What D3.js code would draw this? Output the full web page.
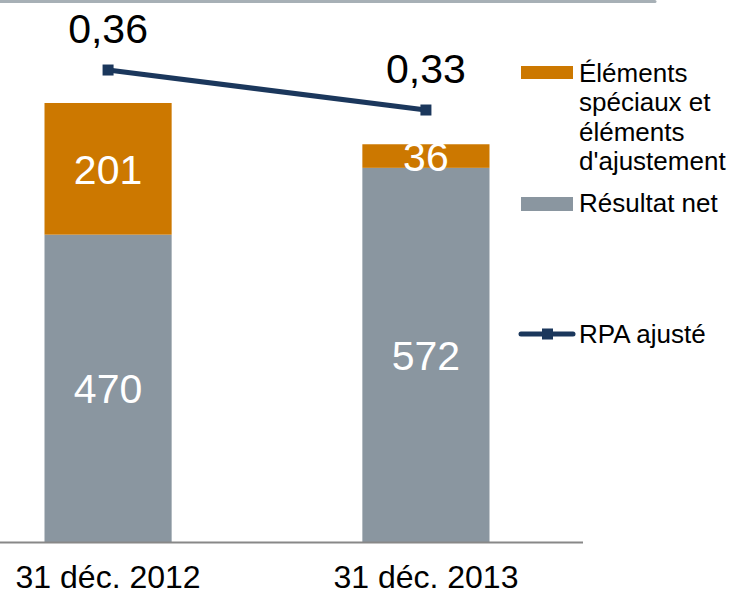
<!DOCTYPE html>
<html>
  <head>
    <meta charset="utf-8">
    <script src="https://d3js.org/d3.v7.min.js"></script>
    <style>
      body { margin: 0; background: #fff; }
      svg { font-family: Arial, "Liberation Sans", sans-serif; display: block; }
    </style>
  </head>
  <body>
    <svg width="733" height="594"></svg>
    <script>
      const categories = ["31 déc. 2012", "31 déc. 2013"];
      const netIncome = [470, 572];
      const specialItems = [201, 36];
      const adjustedEps = [0.36, 0.33];
      const epsLabels = ["0,36", "0,33"];

      const orange = "#cc7800", grey = "#8a96a0", navy = "#1b375c";

      const svg = d3.select("svg");
      const base = 542.5;

      const x = d3.scaleBand()
        .domain(categories)
        .range([0, 534])
        .paddingInner(0.6)
        .paddingOuter(0.14);

      const y = d3.scaleLinear().domain([0, 800]).range([base, base - 524]);
      const y2 = d3.scaleLinear().domain([0.30, 0.40]).range([150, 16.7]);

      // thin rule at the top of the slide
      svg.append("line")
        .attr("x1", 0).attr("x2", 655)
        .attr("y1", 1.5).attr("y2", 1.5)
        .attr("stroke", "#a7b0b6")
        .attr("stroke-width", 3)
        .attr("stroke-linecap", "round");

      const stacked = categories.map((c, i) => ({ cat: c, net: netIncome[i], special: specialItems[i] }));

      const bars = svg.append("g").selectAll("g").data(stacked).join("g");

      bars.append("rect")
        .attr("x", d => x(d.cat))
        .attr("width", x.bandwidth())
        .attr("y", d => y(d.net))
        .attr("height", d => y(0) - y(d.net))
        .attr("fill", grey);

      bars.append("rect")
        .attr("x", d => x(d.cat))
        .attr("width", x.bandwidth())
        .attr("y", d => y(d.net + d.special))
        .attr("height", d => y(0) - y(d.special))
        .attr("fill", orange);

      bars.append("text")
        .attr("x", d => x(d.cat) + x.bandwidth() / 2)
        .attr("y", d => (y(0) + y(d.net)) / 2)
        .attr("dy", "0.36em")
        .attr("text-anchor", "middle")
        .attr("fill", "#fff")
        .style("font-size", "41px")
        .text(d => d.net);

      bars.append("text")
        .attr("x", d => x(d.cat) + x.bandwidth() / 2)
        .attr("y", d => (y(d.net) + y(d.net + d.special)) / 2)
        .attr("dy", "0.36em")
        .attr("text-anchor", "middle")
        .attr("fill", "#fff")
        .style("font-size", "41px")
        .text(d => d.special);

      // baseline
      svg.append("line")
        .attr("x1", 0).attr("x2", 583)
        .attr("y1", base).attr("y2", base)
        .attr("stroke", "#888")
        .attr("stroke-width", 2);

      const xAxis = svg.append("g")
        .attr("transform", `translate(0,${base})`)
        .call(d3.axisBottom(x).tickSize(0).tickPadding(23));
      xAxis.select(".domain").remove();
      xAxis.selectAll("text")
        .style("font-size", "32px")
        .style("font-family", "Arial, 'Liberation Sans', sans-serif")
        .attr("fill", "#000");

      // EPS line
      const eps = categories.map((c, i) => ({ cat: c, v: adjustedEps[i], label: epsLabels[i] }));
      const cx = d => x(d.cat) + x.bandwidth() / 2;

      svg.append("path")
        .datum(eps)
        .attr("fill", "none")
        .attr("stroke", navy)
        .attr("stroke-width", 5)
        .attr("d", d3.line().x(cx).y(d => y2(d.v)));

      svg.append("g").selectAll("rect").data(eps).join("rect")
        .attr("x", d => cx(d) - 5.5)
        .attr("y", d => y2(d.v) - 5.5)
        .attr("width", 11)
        .attr("height", 11)
        .attr("fill", navy);

      svg.append("g").selectAll("text").data(eps).join("text")
        .attr("x", cx)
        .attr("y", d => y2(d.v) - 27)
        .attr("text-anchor", "middle")
        .attr("fill", "#000")
        .style("font-size", "41px")
        .text(d => d.label);

      // legend
      const legend = svg.append("g");
      legend.append("rect")
        .attr("x", 521).attr("y", 66).attr("width", 52).attr("height", 13)
        .attr("fill", orange);
      legend.append("text")
        .attr("x", 579).attr("y", 82)
        .style("font-size", "26px")
        .selectAll("tspan")
        .data(["Éléments", "spéciaux et", "éléments", "d'ajustement"])
        .join("tspan")
        .attr("x", 579)
        .attr("dy", (d, i) => i ? 29.3 : 0)
        .text(d => d);

      legend.append("rect")
        .attr("x", 521).attr("y", 197).attr("width", 52).attr("height", 14)
        .attr("fill", grey);
      legend.append("text")
        .attr("x", 579).attr("y", 212)
        .style("font-size", "26px")
        .text("Résultat net");

      legend.append("line")
        .attr("x1", 521).attr("x2", 573)
        .attr("y1", 334).attr("y2", 334)
        .attr("stroke", navy)
        .attr("stroke-width", 5)
        .attr("stroke-linecap", "round");
      legend.append("rect")
        .attr("x", 542).attr("y", 328.5).attr("width", 11).attr("height", 11)
        .attr("fill", navy);
      legend.append("text")
        .attr("x", 579).attr("y", 343)
        .style("font-size", "26px")
        .text("RPA ajusté");
    </script>
  </body>
</html>
